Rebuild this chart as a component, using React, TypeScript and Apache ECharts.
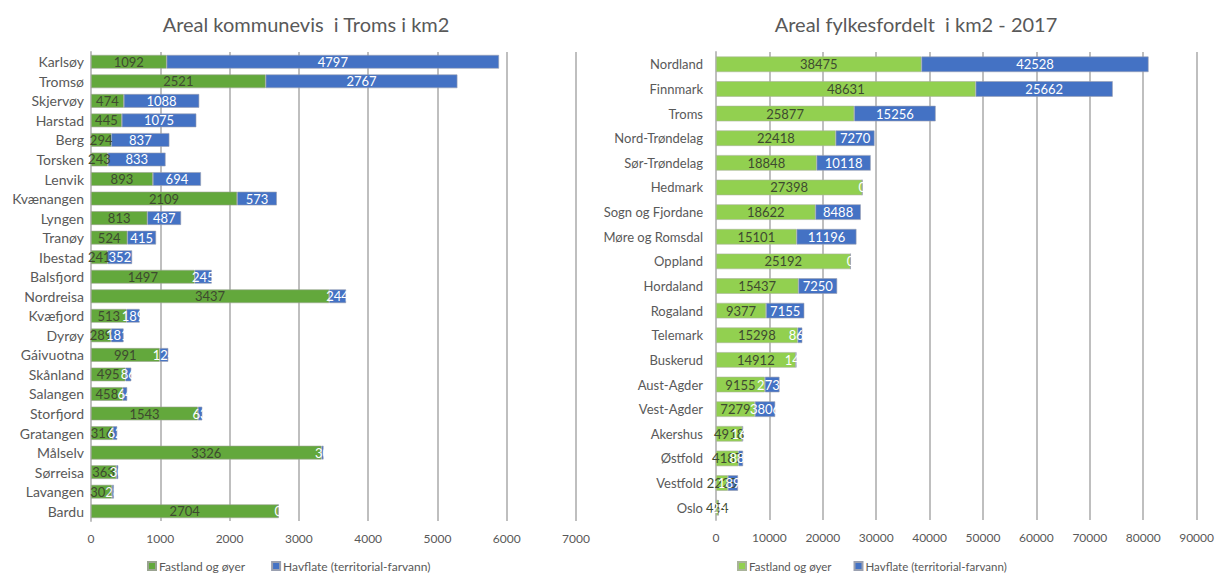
import React, { useEffect, useRef } from "react";
import * as echarts from "echarts";

const tromsKommuner = ["Karlsøy","Tromsø","Skjervøy","Harstad","Berg","Torsken","Lenvik","Kvænangen","Lyngen","Tranøy","Ibestad","Balsfjord","Nordreisa","Kvæfjord","Dyrøy","Gáivuotna","Skånland","Salangen","Storfjord","Gratangen","Målselv","Sørreisa","Lavangen","Bardu"];
const tromsFastland = [1092,2521,474,445,294,243,893,2109,813,524,241,1497,3437,513,289,991,495,458,1543,316,3326,363,302,2704];
const tromsHavflate = [4797,2767,1088,1075,837,833,694,573,487,415,352,245,244,189,181,124,86,64,63,62,30,30,28,0];

const fylker = ["Nordland","Finnmark","Troms","Nord-Trøndelag","Sør-Trøndelag","Hedmark","Sogn og Fjordane","Møre og Romsdal","Oppland","Hordaland","Rogaland","Telemark","Buskerud","Aust-Agder","Vest-Agder","Akershus","Østfold","Vestfold","Oslo"];
const fylkeFastland = [38475,48631,25877,22418,18848,27398,18622,15101,25192,15437,9377,15298,14912,9155,7279,4918,4187,2225,454];
const fylkeHavflate = [42528,25662,15256,7270,10118,0,8488,11196,0,7250,7155,860,142,2734,3806,165,880,1894,26];

const leftTicks = { min: 0, max: 7000, interval: 1000 };
const rightTicks = { min: 0, max: 90000, interval: 10000 };

const seriesNames = ["Fastland og øyer", "Havflate (territorial-farvann)"];

const FONT = "Lato";
const GRAY = "#595959";
const GRID = "#bfbfbf";

export default function App() {
  const ref = useRef<HTMLDivElement>(null);
  useEffect(() => {
    if (!ref.current) return;
    const chart = echarts.init(ref.current, undefined, { renderer: "svg" });
    const xAxisBase = (idx: number, t: any) => ({
      type: "value",
      gridIndex: idx,
      min: t.min,
      max: t.max,
      interval: t.interval,
      axisLine: { show: false },
      axisTick: { show: false },
      axisLabel: {
        color: GRAY,
        fontFamily: FONT,
        fontSize: 12,
        margin: 11,
        formatter: (v: number) => String(v),
      },
      splitLine: { show: true, lineStyle: { color: GRID, width: 2 } },
    });
    const yAxisBase = (idx: number, data: string[], fs: number, margin: number) => ({
      type: "category",
      gridIndex: idx,
      data,
      inverse: true,
      axisLine: { show: true, lineStyle: { color: GRID, width: 2 } },
      axisTick: { show: false },
      axisLabel: { color: GRAY, fontFamily: FONT, fontSize: fs, margin },
    });
    const greenLabel = {
      show: true,
      position: "inside",
      color: "#3e4a30",
      fontFamily: FONT,
      fontSize: 13,
      overflow: "none",
    };
    const blueLabel = {
      show: true,
      position: "inside",
      color: "#ffffff",
      fontFamily: FONT,
      fontSize: 13,
      overflow: "none",
    };
    const legendStyle = (fs: number, gap: number) => ({
      itemWidth: 8,
      itemHeight: 8,
      itemGap: gap,
      icon: "rect",
      padding: 0,
      textStyle: { color: GRAY, fontFamily: FONT, fontSize: fs, padding: [0, 0, 0, -2] },
    });
    chart.setOption({
      animation: false,
      textStyle: { fontFamily: FONT },
      title: [
        {
          text: "Areal kommunevis  i Troms i km2",
          left: 301,
          top: 9,
          textAlign: "center",
          textStyle: { color: GRAY, fontFamily: FONT, fontSize: 20, fontWeight: "normal" },
        },
        {
          text: "Areal fylkesfordelt  i km2 - 2017",
          left: 911,
          top: 9,
          textAlign: "center",
          textStyle: { color: GRAY, fontFamily: FONT, fontSize: 20, fontWeight: "normal" },
        },
      ],
      legend: [
        {
          ...legendStyle(12, 26),
          data: [
            { name: "L1", itemStyle: { color: "#63a83c" } },
            { name: "L2", itemStyle: { color: "#4472c4" } },
          ],
          formatter: (n: string) => (n === "L1" ? seriesNames[0] : seriesNames[1]),
          left: 147,
          top: 560,
        },
        {
          ...legendStyle(11.5, 22),
          data: [
            { name: "R1", itemStyle: { color: "#92d050" } },
            { name: "R2", itemStyle: { color: "#4472c4" } },
          ],
          formatter: (n: string) => (n === "R1" ? seriesNames[0] : seriesNames[1]),
          left: 737,
          top: 560,
        },
      ],
      grid: [
        { left: 91, width: 485, top: 52, height: 469 },
        { left: 716, width: 482, top: 52, height: 468 },
      ],
      xAxis: [xAxisBase(0, leftTicks), xAxisBase(1, rightTicks)],
      yAxis: [yAxisBase(0, tromsKommuner, 14, 7), yAxisBase(1, fylker, 13, 13)],
      series: [
        {
          name: "L1",
          type: "bar",
          stack: "L",
          xAxisIndex: 0,
          yAxisIndex: 0,
          data: tromsFastland,
          barWidth: "70%",
          itemStyle: { color: "#63a83c", borderColor: "#9aa391", borderWidth: 0.6 },
          label: greenLabel,
        },
        {
          name: "L2",
          type: "bar",
          stack: "L",
          xAxisIndex: 0,
          yAxisIndex: 0,
          data: tromsHavflate,
          barWidth: "70%",
          itemStyle: { color: "#4472c4", borderColor: "#9aa0b0", borderWidth: 0.6 },
          label: blueLabel,
        },
        {
          name: "R1",
          type: "bar",
          stack: "R",
          xAxisIndex: 1,
          yAxisIndex: 1,
          data: fylkeFastland,
          barWidth: "63%",
          itemStyle: { color: "#92d050", borderColor: "#a9b39a", borderWidth: 0.6 },
          label: greenLabel,
        },
        {
          name: "R2",
          type: "bar",
          stack: "R",
          xAxisIndex: 1,
          yAxisIndex: 1,
          data: fylkeHavflate,
          barWidth: "63%",
          itemStyle: { color: "#4472c4", borderColor: "#9aa0b0", borderWidth: 0.6 },
          label: blueLabel,
        },
      ],
    });
    return () => chart.dispose();
  }, []);
  return (
    <div
      ref={ref}
      style={{ position: "fixed", left: 0, top: 0, width: 1217, height: 574, background: "#ffffff" }}
    />
  );
}
